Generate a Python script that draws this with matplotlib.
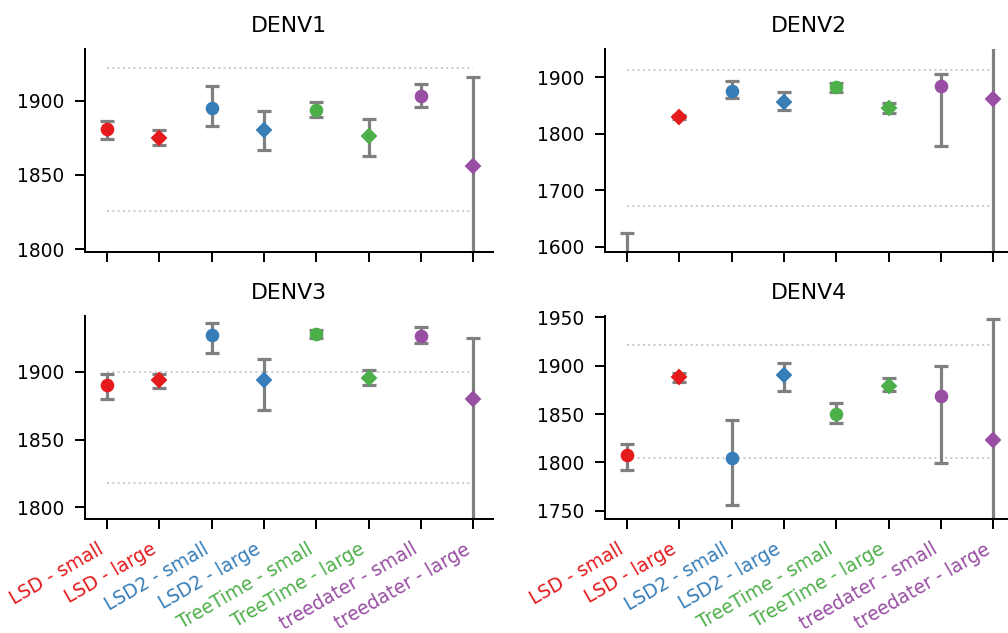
import matplotlib
matplotlib.use("Agg")
import matplotlib.pyplot as plt
import numpy as np

categories = ['LSD - small', 'LSD - large', 'LSD2 - small', 'LSD2 - large',
              'TreeTime - small', 'TreeTime - large', 'treedater - small', 'treedater - large']
method_colors = ['#e41a1c', '#e41a1c', '#377eb8', '#377eb8',
                 '#4daf4a', '#4daf4a', '#984ea3', '#984ea3']
markers = ['o', 'D', 'o', 'D', 'o', 'D', 'o', 'D']

titles = ['DENV1', 'DENV2', 'DENV3', 'DENV4']

denv1_est = [1881, 1875, 1895, 1880, 1894, 1876, 1903, 1856]
denv1_low = [1874, 1870, 1883, 1867, 1889, 1863, 1896, 1790]
denv1_high = [1886.5, 1880.5, 1910, 1893, 1899, 1888, 1911.5, 1916]

denv2_est = [1560, 1830, 1876, 1856, 1882, 1845, 1885, 1862]
denv2_low = [1490, 1826, 1863, 1843, 1874, 1837, 1779, 1560]
denv2_high = [1625, 1834, 1893.5, 1874, 1889, 1854, 1905, 1990]

denv3_est = [1890, 1894, 1927, 1894, 1928, 1895, 1926, 1880]
denv3_low = [1880, 1888, 1914, 1872, 1925, 1890, 1921, 1780]
denv3_high = [1898, 1898, 1936, 1909, 1931, 1901, 1933, 1924.5]

denv4_est = [1808, 1888, 1805, 1890, 1850, 1879, 1869, 1823]
denv4_low = [1792, 1883, 1756, 1874, 1841, 1874, 1799, 1700]
denv4_high = [1819, 1893, 1844, 1903, 1861, 1887, 1900, 1948.5]

ref_lines = [(1826, 1922), (1671.5, 1912.5), (1818, 1900), (1805, 1922)]
ylims = [(1798, 1935), (1591, 1950), (1791.5, 1941), (1741.5, 1951.5)]
yticks = [[1800, 1850, 1900], [1600, 1700, 1800, 1900],
          [1800, 1850, 1900], [1750, 1800, 1850, 1900, 1950]]

data = [(denv1_est, denv1_low, denv1_high),
        (denv2_est, denv2_low, denv2_high),
        (denv3_est, denv3_low, denv3_high),
        (denv4_est, denv4_low, denv4_high)]

W, H = 1008, 633
fig = plt.figure(figsize=(W / 144, H / 144), dpi=144)

ax_w = 408 / W
ax_h = 203 / H
lefts = [85 / W, 605 / W]
bottoms = [1 - 252 / H, 1 - 519 / H]
positions = [(lefts[0], bottoms[0]), (lefts[1], bottoms[0]),
             (lefts[0], bottoms[1]), (lefts[1], bottoms[1])]

x = np.arange(len(categories))

for i, (est, low, high) in enumerate(data):
    ax = fig.add_axes([positions[i][0], positions[i][1], ax_w, ax_h])
    est = np.array(est, dtype=float)
    low = np.array(low, dtype=float)
    high = np.array(high, dtype=float)
    lo_line, hi_line = ref_lines[i]
    ax.hlines([lo_line, hi_line], x[0], x[-1], colors='#cccccc',
              linestyles=':', linewidth=1.0, zorder=1)
    ax.errorbar(x, est, yerr=[est - low, high - est], fmt='none',
                ecolor='#808080', elinewidth=1.6, capsize=3.4, capthick=1.6, zorder=2)
    for j in range(len(x)):
        ms = 5.8 if markers[j] == 'o' else 5.1
        ax.plot(x[j], est[j], marker=markers[j], color=method_colors[j],
                markersize=ms, linestyle='none', zorder=3)
    ax.set_xlim(-0.42, 7.38)
    ax.set_ylim(*ylims[i])
    ax.set_yticks(yticks[i])
    ax.set_xticks(x)
    ax.set_title(titles[i], fontsize=11, pad=8.5)
    for s in ['top', 'right']:
        ax.spines[s].set_visible(False)
    for s in ['left', 'bottom']:
        ax.spines[s].set_linewidth(1.0)
    ax.tick_params(axis='both', length=4.8, width=1.0, labelsize=9.3, pad=5.5)
    if i >= 2:
        ax.set_xticklabels(categories, rotation=30, ha='right', fontsize=9.3)
        for lab, c in zip(ax.get_xticklabels(), method_colors):
            lab.set_color(c)
    else:
        ax.set_xticklabels([])

fig.savefig('out.png', dpi=144)
